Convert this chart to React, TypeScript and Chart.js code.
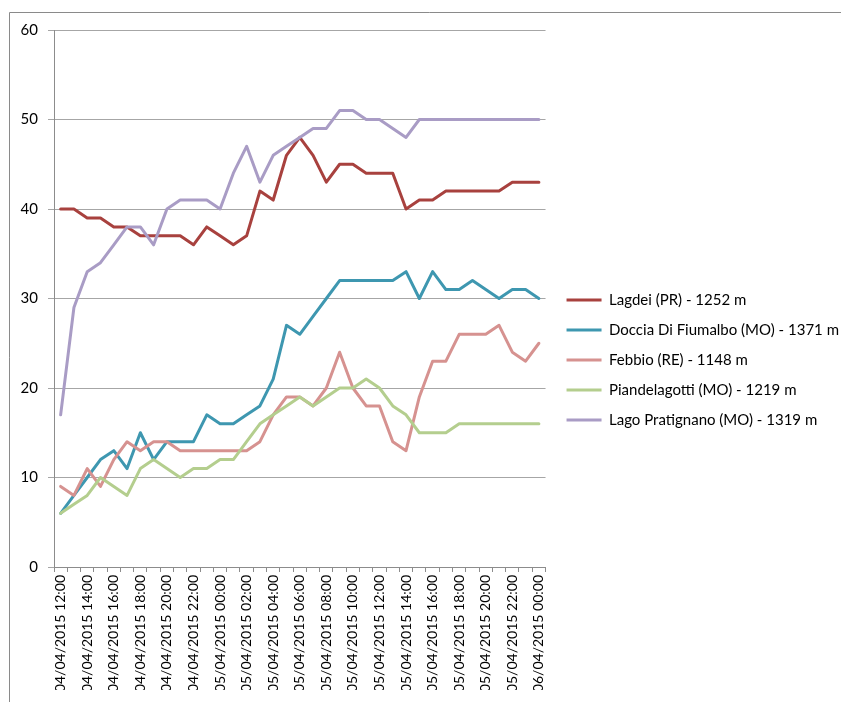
import React, { useEffect, useRef } from 'react';
import { Chart, registerables } from 'chart.js';

Chart.register(...registerables);

const categories = [
  '04/04/2015 12:00', '04/04/2015 13:00', '04/04/2015 14:00', '04/04/2015 15:00',
  '04/04/2015 16:00', '04/04/2015 17:00', '04/04/2015 18:00', '04/04/2015 19:00',
  '04/04/2015 20:00', '04/04/2015 21:00', '04/04/2015 22:00', '04/04/2015 23:00',
  '05/04/2015 00:00', '05/04/2015 01:00', '05/04/2015 02:00', '05/04/2015 03:00',
  '05/04/2015 04:00', '05/04/2015 05:00', '05/04/2015 06:00', '05/04/2015 07:00',
  '05/04/2015 08:00', '05/04/2015 09:00', '05/04/2015 10:00', '05/04/2015 11:00',
  '05/04/2015 12:00', '05/04/2015 13:00', '05/04/2015 14:00', '05/04/2015 15:00',
  '05/04/2015 16:00', '05/04/2015 17:00', '05/04/2015 18:00', '05/04/2015 19:00',
  '05/04/2015 20:00', '05/04/2015 21:00', '05/04/2015 22:00', '05/04/2015 23:00',
  '06/04/2015 00:00',
];

const seriesNames = [
  'Lagdei (PR) - 1252 m',
  'Doccia Di Fiumalbo (MO) - 1371 m',
  'Febbio (RE) - 1148 m',
  'Piandelagotti (MO) - 1219 m',
  'Lago Pratignano (MO) - 1319 m',
];

const lagdei = [40, 40, 39, 39, 38, 38, 37, 37, 37, 37, 36, 38, 37, 36, 37, 42, 41, 46, 48, 46, 43, 45, 45, 44, 44, 44, 40, 41, 41, 42, 42, 42, 42, 42, 43, 43, 43];
const doccia = [6, 8, 10, 12, 13, 11, 15, 12, 14, 14, 14, 17, 16, 16, 17, 18, 21, 27, 26, 28, 30, 32, 32, 32, 32, 32, 33, 30, 33, 31, 31, 32, 31, 30, 31, 31, 30];
const febbio = [9, 8, 11, 9, 12, 14, 13, 14, 14, 13, 13, 13, 13, 13, 13, 14, 17, 19, 19, 18, 20, 24, 20, 18, 18, 14, 13, 19, 23, 23, 26, 26, 26, 27, 24, 23, 25];
const piandelagotti = [6, 7, 8, 10, 9, 8, 11, 12, 11, 10, 11, 11, 12, 12, 14, 16, 17, 18, 19, 18, 19, 20, 20, 21, 20, 18, 17, 15, 15, 15, 16, 16, 16, 16, 16, 16, 16];
const pratignano = [17, 29, 33, 34, 36, 38, 38, 36, 40, 41, 41, 41, 40, 44, 47, 43, 46, 47, 48, 49, 49, 51, 51, 50, 50, 49, 48, 50, 50, 50, 50, 50, 50, 50, 50, 50, 50];

const seriesValues = [lagdei, doccia, febbio, piandelagotti, pratignano];
const seriesColors = ['#A8413E', '#3E97B0', '#D69290', '#B4CE8E', '#A99CC5'];

const yTicks = [0, 10, 20, 30, 40, 50, 60];

const FONT = 'Lato, "Open Sans", sans-serif';

const frame = {
  id: 'frame',
  beforeDraw(chart: any) {
    const ctx = chart.ctx;
    ctx.save();
    ctx.fillStyle = '#ffffff';
    ctx.fillRect(0, 0, chart.width, chart.height);
    ctx.strokeStyle = '#8a8a8a';
    ctx.lineWidth = 1;
    ctx.beginPath();
    ctx.moveTo(1.5, chart.height);
    ctx.lineTo(1.5, 4.5);
    ctx.lineTo(chart.width, 4.5);
    ctx.stroke();
    ctx.restore();
  },
};

export default function App() {
  const ref = useRef<HTMLCanvasElement | null>(null);

  useEffect(() => {
    if (!ref.current) return;
    const n = seriesValues.length;
    const chart = new Chart(ref.current, {
      type: 'line',
      data: {
        labels: categories,
        datasets: seriesValues.map((vals, i) => ({
          label: seriesNames[i],
          data: vals,
          borderColor: seriesColors[i],
          backgroundColor: seriesColors[i],
          borderWidth: 3,
          pointRadius: 0,
          pointHoverRadius: 0,
          tension: 0,
          borderJoinStyle: 'round' as const,
          borderCapStyle: 'round' as const,
          fill: false,
          order: n - i,
        })),
      },
      options: {
        responsive: false,
        animation: false,
        layout: { padding: { top: 22, left: 0, right: 0, bottom: 12 } },
        plugins: {
          tooltip: { enabled: false },
          legend: {
            position: 'right',
            align: 'center',
            maxWidth: 400,
            labels: {
              font: { family: FONT, size: 15 },
              color: '#000',
              boxWidth: 35,
              boxHeight: 3,
              padding: 15,
              sort: (a: any, b: any) => a.datasetIndex - b.datasetIndex,
              generateLabels: (c: any) =>
                (Chart.defaults.plugins.legend.labels.generateLabels as any)(c).map((l: any) => ({
                  ...l,
                  fillStyle: l.strokeStyle,
                  lineWidth: 0,
                })),
            },
          },
        },
        scales: {
          x: {
            type: 'category',
            offset: true,
            grid: {
              display: true,
              offset: true,
              drawOnChartArea: false,
              drawTicks: true,
              tickLength: 5,
              color: '#8c8c8c',
            },
            border: { display: true, color: '#8c8c8c' },
            ticks: {
              autoSkip: false,
              minRotation: 90,
              maxRotation: 90,
              padding: 3,
              color: '#000',
              font: { family: FONT, size: 14 },
              callback: (_v: any, i: number) => (i % 2 === 0 ? categories[i] : ''),
            },
            afterFit: (s: any) => {
              s.height = 123;
            },
          },
          y: {
            min: 0,
            max: 60,
            position: 'left',
            afterBuildTicks: (s: any) => {
              s.ticks = yTicks.map((v) => ({ value: v }));
            },
            grid: {
              color: '#a6a6a6',
              drawTicks: true,
              tickLength: 6,
            },
            border: { display: true, color: '#8c8c8c' },
            ticks: {
              padding: 10,
              color: '#000',
              font: { family: FONT, size: 15 },
            },
            afterFit: (s: any) => {
              s.width = 46;
            },
          },
          yRight: {
            position: 'right',
            display: true,
            grid: { display: false, drawTicks: false },
            border: { display: false },
            ticks: { display: false },
            afterFit: (s: any) => {
              s.width = 6;
            },
          },
        },
      },
      plugins: [frame],
    } as any);
    return () => chart.destroy();
  }, []);

  return <canvas ref={ref} width={841} height={694} style={{ display: 'block' }} />;
}
